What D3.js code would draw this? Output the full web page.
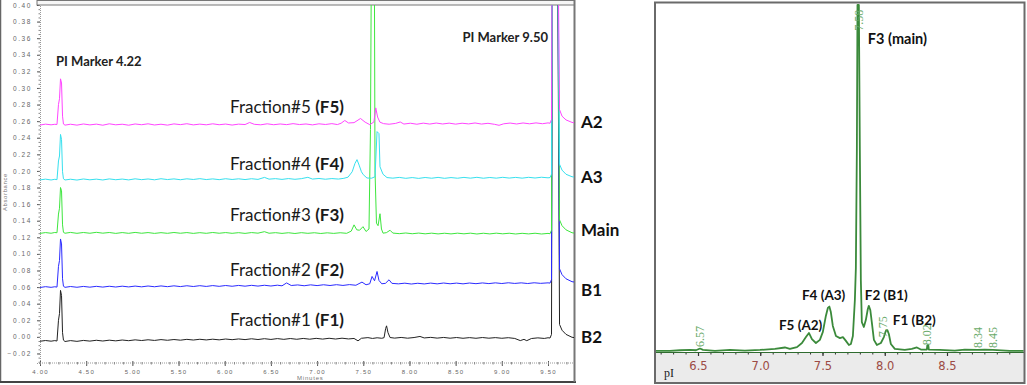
<!DOCTYPE html>
<html>
<head>
<meta charset="utf-8">
<script src="https://cdn.jsdelivr.net/npm/d3@7/dist/d3.min.js"></script>
<style>
  body { margin: 0; background: #fff; }
  svg { display: block; }
</style>
</head>
<body>
<div id="chart"></div>
<script>
// ---- left panel: cIEF traces (minutes vs absorbance) ----
const minuteTicks = [4.00, 4.50, 5.00, 5.50, 6.00, 6.50, 7.00, 7.50, 8.00, 8.50, 9.00, 9.50];
const absTicks = [-0.02, 0.00, 0.02, 0.04, 0.06, 0.08, 0.10, 0.12, 0.14, 0.16, 0.18, 0.20,
                  0.22, 0.24, 0.26, 0.28, 0.30, 0.32, 0.34, 0.36, 0.38, 0.40];

const fractionNames = ["Fraction#5", "Fraction#4", "Fraction#3", "Fraction#2", "Fraction#1"];
const fractionCodes = ["(F5)", "(F4)", "(F3)", "(F2)", "(F1)"];
const laneLabels = ["A2", "A3", "Main", "B1", "B2"];
const markerLabels = ["PI Marker 4.22", "PI Marker 9.50"];

const traceF5 = [
  [4.00,0.2553],[4.06,0.2564],[4.12,0.2556],[4.16,0.2562],
  [4.184,0.2560],[4.200,0.2800],[4.211,0.2870],[4.222,0.3110],[4.233,0.3060],[4.244,0.2660],[4.254,0.2565],[4.271,0.2552],
  [4.33,0.2563],[4.40,0.2552],[4.47,0.2566],[4.54,0.2555],[4.61,0.2564],[4.68,0.2551],[4.75,0.2568],[4.82,0.2556],[4.89,0.2563],
  [4.96,0.2551],[5.03,0.2566],[5.10,0.2557],[5.17,0.2568],[5.24,0.2554],[5.31,0.2563],[5.38,0.2552],[5.45,0.2567],[5.52,0.2558],
  [5.59,0.2569],[5.66,0.2555],[5.73,0.2564],[5.80,0.2556],[5.87,0.2568],[5.94,0.2557],[6.01,0.2565],[6.08,0.2553],[6.15,0.2564],
  [6.22,0.2559],[6.27,0.2584],[6.32,0.2562],[6.39,0.2556],[6.46,0.2568],[6.53,0.2557],[6.60,0.2566],[6.67,0.2558],[6.74,0.2570],
  [6.81,0.2559],[6.88,0.2566],[6.95,0.2555],[7.02,0.2568],[7.09,0.2560],[7.16,0.2570],[7.22,0.2559],
  [7.26,0.2575],[7.30,0.2608],[7.34,0.2578],[7.40,0.2582],[7.47,0.2632],[7.52,0.2588],[7.57,0.2558],[7.615,0.2590],
  [7.635,0.2760],[7.655,0.2650],[7.68,0.2588],[7.72,0.2570],
  [7.78,0.2563],[7.85,0.2573],[7.90,0.2590],[7.94,0.2565],[8.01,0.2575],[8.08,0.2563],[8.15,0.2576],[8.22,0.2565],[8.29,0.2577],
  [8.36,0.2566],[8.43,0.2576],[8.50,0.2564],[8.57,0.2575],[8.64,0.2567],[8.71,0.2578],[8.78,0.2565],[8.85,0.2574],[8.92,0.2562],
  [8.97,0.2550],[9.02,0.2568],[9.09,0.2577],[9.16,0.2566],[9.23,0.2578],[9.30,0.2568],[9.37,0.2579],[9.44,0.2569],[9.50,0.2579],
  [9.522,0.2575],[9.538,0.2620],[9.549,0.60],[9.598,0.60],[9.625,0.2740],[9.652,0.2660],[9.695,0.2615],[9.76,0.2585],[9.79,0.2580]
];

const traceF4 = [
  [4.00,0.1892],[4.06,0.1901],[4.12,0.1891],[4.16,0.1899],
  [4.184,0.1895],[4.200,0.2120],[4.211,0.2180],[4.222,0.2440],[4.233,0.2380],[4.244,0.1990],[4.254,0.1905],[4.271,0.1891],
  [4.33,0.1900],[4.40,0.1890],[4.47,0.1903],[4.54,0.1893],[4.61,0.1901],[4.68,0.1891],[4.75,0.1904],[4.82,0.1894],[4.89,0.1902],
  [4.96,0.1892],[5.03,0.1905],[5.10,0.1895],[5.17,0.1903],[5.24,0.1893],[5.31,0.1906],[5.38,0.1896],[5.45,0.1904],[5.52,0.1894],
  [5.59,0.1905],[5.66,0.1897],[5.73,0.1907],[5.80,0.1896],[5.87,0.1904],[5.94,0.1895],[6.01,0.1906],[6.08,0.1897],[6.15,0.1905],
  [6.22,0.1896],[6.29,0.1906],[6.36,0.1898],[6.43,0.1922],[6.48,0.1901],[6.55,0.1907],[6.62,0.1898],[6.69,0.1908],[6.76,0.1899],
  [6.83,0.1907],[6.90,0.1923],[6.95,0.1902],[7.02,0.1909],[7.09,0.1900],[7.16,0.1908],[7.23,0.1902],[7.29,0.1911],
  [7.335,0.1925],[7.38,0.1990],[7.41,0.2090],[7.432,0.2136],[7.455,0.2070],[7.48,0.1990],[7.50,0.1955],[7.54,0.1915],[7.59,0.1912],
  [7.627,0.1930],[7.649,0.2474],[7.670,0.2450],[7.681,0.2050],[7.714,0.1960],[7.757,0.1920],
  [7.82,0.1913],[7.89,0.1922],[7.96,0.1911],[8.03,0.1920],[8.10,0.1910],[8.17,0.1921],[8.24,0.1912],[8.31,0.1922],[8.38,0.1911],
  [8.45,0.1920],[8.52,0.1912],[8.59,0.1922],[8.66,0.1913],[8.73,0.1923],[8.80,0.1912],[8.87,0.1921],[8.94,0.1913],[9.01,0.1923],
  [9.08,0.1914],[9.15,0.1922],[9.22,0.1913],[9.29,0.1923],[9.36,0.1915],[9.43,0.1924],[9.50,0.1917],
  [9.522,0.1920],[9.538,0.1960],[9.549,0.60],[9.598,0.60],[9.625,0.2080],[9.652,0.2010],[9.695,0.1960],[9.76,0.1930],[9.79,0.1925]
];

const traceF3 = [
  [4.00,0.1247],[4.06,0.1257],[4.12,0.1249],[4.16,0.1258],
  [4.184,0.1255],[4.200,0.1480],[4.211,0.1550],[4.222,0.1800],[4.233,0.1760],[4.244,0.1350],[4.254,0.1260],[4.271,0.1249],
  [4.33,0.1259],[4.40,0.1248],[4.47,0.1258],[4.54,0.1249],[4.61,0.1260],[4.68,0.1250],[4.75,0.1258],[4.82,0.1247],[4.89,0.1257],
  [4.96,0.1248],[5.03,0.1259],[5.10,0.1249],[5.17,0.1257],[5.24,0.1247],[5.31,0.1256],[5.38,0.1248],[5.45,0.1258],[5.52,0.1249],
  [5.59,0.1257],[5.66,0.1247],[5.73,0.1256],[5.80,0.1248],[5.87,0.1258],[5.94,0.1249],[6.01,0.1257],[6.08,0.1248],[6.15,0.1256],
  [6.22,0.1247],[6.29,0.1257],[6.36,0.1250],[6.43,0.1268],[6.48,0.1249],[6.55,0.1256],[6.62,0.1247],[6.69,0.1255],[6.76,0.1246],
  [6.83,0.1256],[6.90,0.1248],[6.97,0.1255],[7.04,0.1246],[7.11,0.1254],[7.18,0.1247],[7.25,0.1255],[7.32,0.1248],
  [7.37,0.1275],[7.40,0.1350],[7.43,0.1290],[7.46,0.1285],[7.497,0.1328],[7.53,0.1270],[7.562,0.1300],[7.578,0.2500],
  [7.595,0.60],[7.616,0.60],[7.627,0.2000],[7.643,0.1370],[7.66,0.1340],[7.681,0.1484],[7.697,0.1300],[7.714,0.1250],
  [7.75,0.1256],[7.79,0.1285],[7.82,0.1251],
  [7.89,0.1244],[7.96,0.1252],[8.03,0.1243],[8.10,0.1251],[8.17,0.1242],[8.24,0.1250],[8.31,0.1241],[8.38,0.1249],[8.45,0.1241],
  [8.52,0.1250],[8.59,0.1242],[8.66,0.1250],[8.73,0.1240],[8.80,0.1249],[8.87,0.1241],[8.94,0.1250],[9.01,0.1242],[9.08,0.1249],
  [9.15,0.1240],[9.22,0.1248],[9.29,0.1241],[9.36,0.1249],[9.43,0.1240],[9.50,0.1247],
  [9.522,0.1243],[9.538,0.1285],[9.549,0.60],[9.598,0.60],[9.625,0.1410],[9.652,0.1340],[9.695,0.1290],[9.76,0.1255],[9.79,0.1250]
];

const traceF2 = [
  [4.00,0.0595],[4.06,0.0605],[4.12,0.0597],[4.16,0.0604],
  [4.184,0.0600],[4.200,0.0850],[4.211,0.0920],[4.222,0.1180],[4.233,0.1120],[4.244,0.0700],[4.254,0.0610],[4.271,0.0597],
  [4.33,0.0607],[4.40,0.0598],[4.47,0.0608],[4.54,0.0599],[4.61,0.0609],[4.68,0.0600],[4.75,0.0610],[4.82,0.0601],[4.89,0.0611],
  [4.96,0.0602],[5.03,0.0612],[5.10,0.0603],[5.17,0.0613],[5.24,0.0604],[5.31,0.0614],[5.38,0.0605],[5.45,0.0615],[5.52,0.0606],
  [5.59,0.0616],[5.66,0.0607],[5.73,0.0617],[5.80,0.0608],[5.87,0.0618],[5.94,0.0609],[6.01,0.0619],[6.08,0.0610],[6.15,0.0620],
  [6.22,0.0611],[6.29,0.0621],[6.36,0.0612],[6.43,0.0622],[6.50,0.0613],[6.57,0.0623],[6.62,0.0615],[6.67,0.0650],[6.72,0.0619],
  [6.79,0.0626],[6.86,0.0616],[6.93,0.0627],[7.00,0.0618],[7.07,0.0628],[7.14,0.0619],[7.21,0.0629],[7.28,0.0620],[7.35,0.0630],
  [7.42,0.0622],
  [7.486,0.0660],[7.53,0.0628],[7.57,0.0640],[7.595,0.0728],[7.622,0.0676],[7.649,0.0788],[7.67,0.0680],[7.70,0.0640],
  [7.74,0.0645],[7.779,0.0688],[7.81,0.0645],
  [7.88,0.0639],[7.95,0.0647],[8.02,0.0637],[8.09,0.0646],[8.16,0.0638],[8.23,0.0648],[8.30,0.0639],[8.37,0.0649],[8.44,0.0640],
  [8.51,0.0648],[8.58,0.0639],[8.65,0.0649],[8.72,0.0641],[8.79,0.0650],[8.86,0.0642],[8.93,0.0651],[9.00,0.0643],[9.07,0.0652],
  [9.14,0.0644],[9.21,0.0651],[9.28,0.0643],[9.35,0.0652],[9.42,0.0645],[9.50,0.0651],
  [9.522,0.0648],[9.538,0.0690],[9.549,0.60],[9.598,0.60],[9.625,0.0820],[9.652,0.0750],[9.695,0.0700],[9.76,0.0665],[9.79,0.0660]
];

const traceF1 = [
  [4.00,-0.0053],[4.06,-0.0044],[4.12,-0.0052],[4.16,-0.0045],
  [4.184,-0.0050],[4.200,0.0200],[4.211,0.0280],[4.222,0.0560],[4.233,0.0500],[4.244,0.0050],[4.254,-0.0040],[4.271,-0.0056],
  [4.33,-0.0045],[4.40,-0.0054],[4.47,-0.0043],[4.54,-0.0051],[4.61,-0.0041],[4.68,-0.0050],[4.75,-0.0040],[4.82,-0.0048],
  [4.89,-0.0038],[4.96,-0.0046],[5.03,-0.0036],[5.10,-0.0044],[5.17,-0.0035],[5.24,-0.0043],[5.31,-0.0033],[5.38,-0.0041],
  [5.45,-0.0032],[5.52,-0.0040],[5.59,-0.0030],[5.66,-0.0038],[5.73,-0.0029],[5.80,-0.0037],[5.87,-0.0028],[5.94,-0.0036],
  [6.01,-0.0026],[6.08,-0.0034],[6.15,-0.0025],[6.22,-0.0033],[6.29,-0.0023],[6.36,-0.0032],[6.43,-0.0022],[6.50,-0.0031],
  [6.57,-0.0021],[6.64,-0.0030],[6.71,-0.0020],[6.78,-0.0029],[6.85,-0.0019],[6.92,-0.0028],[6.99,-0.0018],[7.06,-0.0027],
  [7.13,-0.0017],[7.20,-0.0026],[7.27,-0.0016],[7.34,-0.0025],[7.40,-0.0019],[7.443,-0.0048],[7.48,-0.0017],[7.55,-0.0009],
  [7.60,-0.0019],[7.65,-0.0011],[7.70,-0.0017],
  [7.725,-0.0010],[7.742,0.0100],[7.752,0.0133],[7.768,0.0050],[7.79,-0.0008],[7.84,-0.0015],
  [7.91,-0.0007],[7.98,-0.0016],[8.05,-0.0008],[8.114,0.0005],[8.16,-0.0013],[8.23,-0.0006],[8.30,-0.0015],[8.37,-0.0007],
  [8.44,-0.0016],[8.51,-0.0008],[8.58,-0.0017],[8.65,-0.0009],[8.72,-0.0017],[8.79,-0.0008],[8.86,-0.0016],[8.93,-0.0009],
  [9.00,-0.0017],[9.07,-0.0010],[9.14,-0.0019],[9.20,-0.0045],[9.24,-0.0030],[9.27,-0.0046],[9.32,-0.0020],[9.39,-0.0012],
  [9.46,-0.0019],[9.50,-0.0011],
  [9.522,-0.0014],[9.538,0.0030],[9.549,0.60],[9.598,0.60],[9.625,0.0150],[9.652,0.0080],[9.695,0.0030],[9.76,-0.0005],[9.79,-0.0010]
];

// ---- right panel: pI profile ----
const pITicks = [6.5, 7.0, 7.5, 8.0, 8.5];
const pIProfile = [
  [6.155,0.3],[6.275,0.3],[6.356,0.5],[6.436,0.6],[6.484,0.5],[6.516,1.0],[6.540,0.6],[6.636,0.3],[6.757,0.6],[6.877,0.4],
  [6.998,0.6],[7.118,0.9],[7.198,1.3],[7.238,0.9],[7.295,1.4],[7.335,2.6],[7.367,4.3],[7.391,5.5],[7.415,3.7],[7.447,2.6],
  [7.479,3.5],[7.503,5.8],[7.527,10.4],[7.543,12.7],[7.555,13.1],[7.567,11.5],[7.583,7.5],[7.608,4.6],[7.640,4.0],[7.664,4.3],
  [7.688,3.2],[7.712,2.0],[7.728,2.3],[7.744,4.6],[7.760,15.0],[7.768,24.2],[7.776,58.2],[7.781,100],[7.792,100],[7.800,58.2],
  [7.808,20.7],[7.816,8.6],[7.832,7.2],[7.848,9.2],[7.864,12.4],[7.872,13.3],[7.884,12.1],[7.896,8.6],[7.913,3.5],[7.937,2.0],
  [7.969,2.6],[7.993,4.3],[8.009,6.1],[8.021,6.3],[8.033,5.2],[8.049,2.3],[8.081,0.9],[8.161,0.6],[8.217,0.9],[8.258,1.3],
  [8.290,0.7],[8.338,0.7],[8.342,2.0],[8.350,2.0],[8.354,0.7],[8.442,0.6],[8.563,0.4],[8.643,0.7],[8.747,0.6],[8.803,0.7],
  [8.868,0.6],[9.004,0.3],[9.116,0.3]
];
// peak apex labels printed by the instrument software, at their drawn position
const peakTexts = ["6.57", "7.58", "7.75", "8.02", "8.34", "8.45"];
const peakTextPos = [6.516, 7.792, 7.985, 8.338, 8.747, 8.868];
const peakTextLevel = [0.9, 92, 3.7, 1.4, 0.6, 0.6];
const fractionTags = ["F5 (A2)", "F4 (A3)", "F3 (main)", "F2 (B1)", "F1 (B2)"];

// ---------------------------------------------------------------
const W = 1027, H = 385;
const svg = d3.select("#chart").append("svg")
    .attr("width", W)
    .attr("height", H);

svg.append("rect").attr("width", W).attr("height", H).attr("fill", "#fff");

// ===== left panel =====
let xMin = d3.scaleLinear().domain([4.0, 9.5]).range([40, 548]);
let yAbs = d3.scaleLinear().domain([-0.0315, 0.40]).range([363, 5]);

let left = svg.append("g").attr("class", "left");

// frame
left.append("line").attr("x1", 0.5).attr("x2", 0.5).attr("y1", 0).attr("y2", 383)
    .attr("stroke", "#666").attr("stroke-width", 1.5);
left.append("line").attr("x1", 0).attr("x2", 576).attr("y1", 382).attr("y2", 382)
    .attr("stroke", "#444").attr("stroke-width", 2);
left.append("line").attr("x1", 574.5).attr("x2", 574.5).attr("y1", 0).attr("y2", 382)
    .attr("stroke", "#777").attr("stroke-width", 2);
left.append("rect").attr("x", 37).attr("y", 0.5).attr("width", 537).attr("height", 4.5)
    .attr("fill", "#f6f6f6").attr("stroke", "#777").attr("stroke-width", 1);

// y axis
let yAxis = left.append("g")
    .attr("transform", "translate(40,0)")
    .call(d3.axisLeft(yAbs).tickValues(absTicks).tickFormat(d3.format(".2f")).tickSize(3).tickPadding(5));
yAxis.select(".domain").attr("stroke", "#999").attr("stroke-dasharray", "1,1");
yAxis.selectAll(".tick line").attr("stroke", "#555");
yAxis.selectAll(".tick text")
    .attr("fill", "#666").attr("font-family", "Liberation Sans, Arial, sans-serif")
    .attr("font-size", "6.5px").attr("letter-spacing", "1.6px");
left.append("g")
    .attr("transform", "translate(40,0)")
    .call(d3.axisLeft(yAbs).tickValues(d3.range(-0.03, 0.401, 0.005)).tickFormat("").tickSize(1.5))
    .call(g => g.select(".domain").remove())
    .selectAll("line").attr("stroke", "#888");

// x axis
let xAxis = left.append("g")
    .attr("transform", "translate(0,363)")
    .call(d3.axisBottom(xMin).tickValues(minuteTicks).tickFormat(d3.format(".2f")).tickSize(3).tickPadding(4));
xAxis.select(".domain").attr("stroke", "#999").attr("stroke-dasharray", "1,1")
    .attr("d", "M40,0H574");
xAxis.selectAll(".tick line").attr("stroke", "#555").attr("y1", -2);
xAxis.selectAll(".tick text")
    .attr("fill", "#666").attr("font-family", "Liberation Sans, Arial, sans-serif")
    .attr("font-size", "6px").attr("letter-spacing", "1.2px");
left.append("g")
    .attr("transform", "translate(0,363)")
    .call(d3.axisBottom(xMin).tickValues(d3.range(4.0, 9.75, 0.1)).tickFormat("").tickSize(1.5))
    .call(g => g.select(".domain").remove())
    .selectAll("line").attr("stroke", "#888").attr("y1", -1);

left.append("text")
    .attr("x", 297).attr("y", 380)
    .attr("font-family", "Liberation Sans, Arial, sans-serif").attr("font-size", "6px")
    .attr("letter-spacing", "0.8px").attr("fill", "#777")
    .text("Minutes");
left.append("text")
    .attr("transform", "translate(7,192) rotate(-90)")
    .attr("text-anchor", "middle")
    .attr("font-family", "Liberation Sans, Arial, sans-serif").attr("font-size", "6px")
    .attr("letter-spacing", "0.6px").attr("fill", "#777")
    .text("Absorbance");

// traces
left.append("clipPath").attr("id", "plotClip")
    .append("rect").attr("x", 40).attr("y", 5).attr("width", 534).attr("height", 358);

let traces = [traceF1, traceF2, traceF3, traceF4, traceF5];
let traceColors = ["#222222", "#2b2bff", "#3ee63e", "#36e0ee", "#ff45ff"];

let line = d3.line().x(d => xMin(d[0])).y(d => yAbs(d[1]));

left.append("g").attr("clip-path", "url(#plotClip)")
    .selectAll("path")
    .data(traces)
    .enter().append("path")
    .attr("d", line)
    .attr("fill", "none")
    .attr("stroke", (d, i) => traceColors[i])
    .attr("stroke-width", 1)
    .attr("stroke-linejoin", "round");

// labels — order F5..F1 matches fractionNames
let baseOrder = [traceF5, traceF4, traceF3, traceF2, traceF1];
let fracLabelOffset = [18, 16, 18, 17, 21];
let laneLabelOffset = [1, 1, 3, -7, 1];

baseOrder.forEach(function(tr, i) {
    let y = yAbs(tr[0][1]) - fracLabelOffset[i];
    let t = left.append("text")
        .attr("x", 230).attr("y", y)
        .attr("dy", "0.35em")
        .attr("font-family", "Lato, sans-serif").attr("font-size", "17px")
        .attr("fill", "#1a1a1a");
    t.append("tspan").text(fractionNames[i] + " ");
    t.append("tspan").attr("font-weight", "bold").text(fractionCodes[i]);

    let yr = yAbs(tr[tr.length - 10][1]) - laneLabelOffset[i];
    left.append("text")
        .attr("x", 581).attr("y", yr)
        .attr("dy", "0.35em")
        .attr("font-family", "Lato, sans-serif").attr("font-size", "17px")
        .attr("font-weight", "bold").attr("fill", "#111")
        .text(laneLabels[i]);
});

left.append("text")
    .attr("x", 56).attr("y", 61).attr("dy", "0.35em")
    .attr("font-family", "Lato, sans-serif").attr("font-size", "13px")
    .attr("font-weight", "bold").attr("fill", "#222")
    .text(markerLabels[0]);
left.append("text")
    .attr("x", 548).attr("y", 37).attr("dy", "0.35em")
    .attr("text-anchor", "end")
    .attr("font-family", "Lato, sans-serif").attr("font-size", "13px")
    .attr("font-weight", "bold").attr("fill", "#222")
    .text(markerLabels[1]);

// ===== right panel =====
let xPI = d3.scaleLinear().domain([6.5, 8.5]).range([698, 947]);
let yInt = d3.scaleLinear().domain([0, 100]).range([352, 5]);

let right = svg.append("g").attr("class", "right");

right.append("rect").attr("x", 655).attr("y", 2).attr("width", 370).attr("height", 381)
    .attr("fill", "#fff");
right.append("rect").attr("x", 655).attr("y", 352).attr("width", 370).attr("height", 31)
    .attr("fill", "#ebebeb");

right.append("clipPath").attr("id", "piClip")
    .append("rect").attr("x", 655).attr("y", 3).attr("width", 370).attr("height", 380);

// axis
let piAxis = right.append("g")
    .attr("transform", "translate(0,352)")
    .call(d3.axisBottom(xPI).tickValues(pITicks).tickFormat(d3.format(".1f")).tickSize(4).tickPadding(6));
piAxis.select(".domain").remove();
piAxis.selectAll(".tick line").attr("stroke", "#333").attr("stroke-width", 1.2);
piAxis.selectAll(".tick text")
    .attr("fill", "#9c4a44").attr("font-family", "DejaVu Sans, Verdana, sans-serif")
    .attr("font-size", "11.5px");
right.append("g")
    .attr("transform", "translate(0,352)")
    .call(d3.axisBottom(xPI).tickValues(d3.range(6.2, 9.1, 0.1)).tickFormat("").tickSize(2.5))
    .call(g => g.select(".domain").remove())
    .selectAll("line").attr("stroke", "#333");
right.append("line").attr("x1", 655).attr("x2", 1025).attr("y1", 352.5).attr("y2", 352.5)
    .attr("stroke", "#2f6b2f").attr("stroke-width", 1);

let piLine = d3.line().x(d => xPI(d[0])).y(d => yInt(d[1]));
right.append("path")
    .datum(pIProfile)
    .attr("clip-path", "url(#piClip)")
    .attr("d", piLine)
    .attr("fill", "none")
    .attr("stroke", "#3b8a3b")
    .attr("stroke-width", 1.8)
    .attr("stroke-linejoin", "round");

right.selectAll(".peaktext")
    .data(peakTexts)
    .enter().append("text")
    .attr("class", "peaktext")
    .attr("transform", (d, i) => `translate(${xPI(peakTextPos[i]) + 4},${yInt(peakTextLevel[i]) - 2}) rotate(-90)`)
    .attr("font-family", "Liberation Serif, serif").attr("font-size", "12px")
    .attr("fill", "#6aaa6a")
    .text(d => d);

let tagX = [7.15, 7.335, 7.864, 7.84, 8.065];
let tagY = [7.7, 16.4, 90.2, 16.4, 9.2];
right.selectAll(".tag")
    .data(fractionTags)
    .enter().append("text")
    .attr("class", "tag")
    .attr("x", (d, i) => xPI(tagX[i]))
    .attr("y", (d, i) => yInt(tagY[i]))
    .attr("dy", "0.35em")
    .attr("font-family", "Lato, sans-serif").attr("font-size", (d, i) => i === 2 ? "14.5px" : "13.5px")
    .attr("font-weight", "bold").attr("fill", "#111")
    .text(d => d);

right.append("rect").attr("x", 655).attr("y", 2.5).attr("width", 369.5).attr("height", 380.5)
    .attr("fill", "none").attr("stroke", "#6a6a6a").attr("stroke-width", 2);

right.append("text")
    .attr("x", 664).attr("y", 377)
    .attr("font-family", "Liberation Serif, serif").attr("font-size", "12px")
    .attr("fill", "#222")
    .text("pI");
</script>
</body>
</html>
